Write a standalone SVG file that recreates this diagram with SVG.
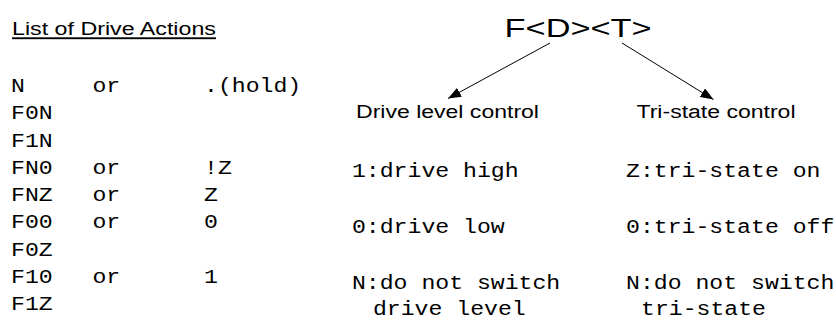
<svg xmlns="http://www.w3.org/2000/svg" width="836" height="320" viewBox="0 0 836 320">
  <style>
    .sans { font-family: "Liberation Sans", Arial, sans-serif; fill: #000; }
    .mono { font-family: "Liberation Mono", "Courier New", monospace; font-size: 19.3px; fill: #000; }
    .label { font-size: 19.2px; }
    .title { font-size: 18.8px; text-decoration: underline; }
    .code { font-size: 26.5px; }
    .conn { stroke: #000; stroke-width: 1; fill: none; marker-end: url(#arrow); }
  </style>
  <defs>
    <marker id="arrow" markerUnits="userSpaceOnUse" markerWidth="13" markerHeight="10" refX="13" refY="5" orient="auto">
      <path d="M0,0 L13,5 L0,10 z" fill="#000"/>
    </marker>
  </defs>

  <rect width="836" height="320" fill="#fff"/>

  <!-- connectors from the drive code to its two fields -->
  <g id="connectors">
    <line class="conn" x1="550" y1="43" x2="448" y2="98.5"/>
    <line class="conn" x1="622" y1="43" x2="713.5" y2="99.5"/>
  </g>

  <!-- text is laid out slightly wide: 1.2 horizontal scale -->
  <g transform="scale(1.2 1)">
    <g id="action-list">
      <text class="sans title" x="10" y="35.5" textLength="170" lengthAdjust="spacingAndGlyphs">List of Drive Actions</text>
      <g class="mono">
        <text x="9.2" y="92">N</text>
        <text x="77" y="92">or</text>
        <text x="170" y="92">.(hold)</text>
        <text x="9.2" y="119.3">F0N</text>
        <text x="9.2" y="146.6">F1N</text>
        <text x="9.2" y="173.9">FN0</text>
        <text x="77" y="173.9">or</text>
        <text x="170" y="173.9">!Z</text>
        <text x="9.2" y="201.2">FNZ</text>
        <text x="77" y="201.2">or</text>
        <text x="170" y="201.2">Z</text>
        <text x="9.2" y="228.5">F00</text>
        <text x="77" y="228.5">or</text>
        <text x="170" y="228.5">0</text>
        <text x="9.2" y="255.8">F0Z</text>
        <text x="9.2" y="283.1">F10</text>
        <text x="77" y="283.1">or</text>
        <text x="170" y="283.1">1</text>
        <text x="9.2" y="310.4">F1Z</text>
      </g>
    </g>

    <g id="drive-code">
      <text class="sans code" x="420.5" y="37" textLength="122.5" lengthAdjust="spacingAndGlyphs">F&lt;D&gt;&lt;T&gt;</text>
    </g>

    <g id="drive-level">
      <text class="sans label" x="296.7" y="118">Drive level control</text>
      <g class="mono">
        <text x="293.3" y="177.3">1:drive high</text>
        <text x="293.3" y="232.7">0:drive low</text>
        <text x="293.3" y="289">N:do not switch</text>
        <text x="310.8" y="315.5">drive level</text>
      </g>
    </g>

    <g id="tri-state">
      <text class="sans label" x="530.4" y="118">Tri-state control</text>
      <g class="mono">
        <text x="521.7" y="177.3">Z:tri-state on</text>
        <text x="521.7" y="232.7">0:tri-state off</text>
        <text x="521.7" y="289">N:do not switch</text>
        <text x="534.2" y="315.5">tri-state</text>
      </g>
    </g>
  </g>
</svg>
